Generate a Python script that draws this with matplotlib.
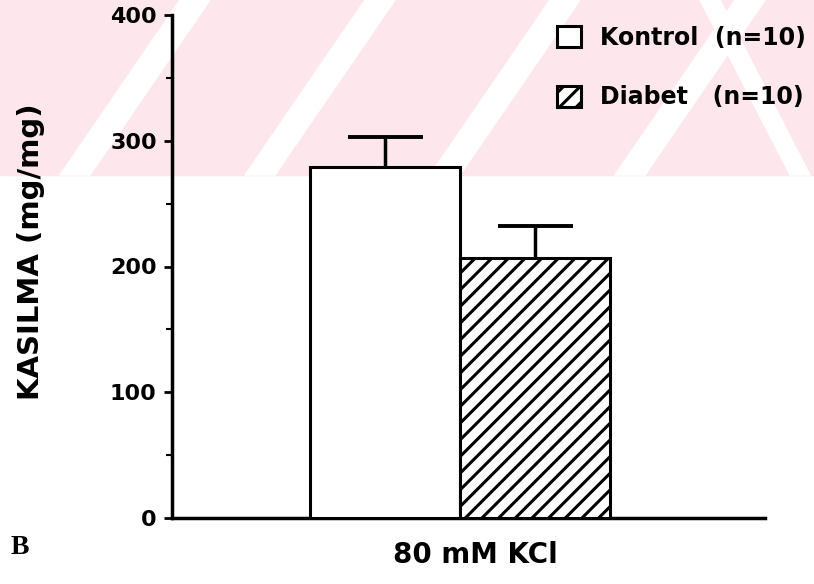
import matplotlib
matplotlib.use("Agg")
from matplotlib import pyplot as plt
from matplotlib.patches import Polygon, Rectangle
from matplotlib.ticker import MultipleLocator

groups = ["Kontrol  (n=10)", "Diabet   (n=10)"]
means = [279, 207]
errors = [24, 25]
hatches = ["", "//"]
condition = "80 mM KCl"
yticks = [0, 100, 200, 300, 400]

plt.rcParams["hatch.linewidth"] = 2.2
plt.rcParams["font.family"] = "DejaVu Sans"

fig = plt.figure(figsize=(8.14, 5.84), dpi=100)

# pink scan watermark band at the top
W, H = 814, 584
band_bottom = 175
fig.patches.append(Rectangle((0, 1 - band_bottom / H), 1, band_bottom / H,
                             transform=fig.transFigure, color="#fde6ec", zorder=-10))
for x0 in [60, 245, 430, 615]:
    pts = [(x0, band_bottom), (x0 + 30, band_bottom), (x0 + 150, 0), (x0 + 120, 0)]
    fig.patches.append(Polygon([(x / W, 1 - y / H) for x, y in pts], closed=True,
                               transform=fig.transFigure, color="white", zorder=-9))
pts = [(700, 0), (720, 0), (810, band_bottom), (790, band_bottom)]
fig.patches.append(Polygon([(x / W, 1 - y / H) for x, y in pts], closed=True,
                           transform=fig.transFigure, color="white", zorder=-9))

ax = fig.add_axes([172 / W, 1 - 518 / H, (765 - 172) / W, (518 - 15) / H])
ax.patch.set_alpha(0)

positions = [0, 1]
cap = 0.25
for i in range(len(groups)):
    ax.bar(positions[i], means[i], width=1.0, color="white", edgecolor="black",
           linewidth=2.2, hatch=hatches[i], label=groups[i], zorder=3)
    top = means[i] + errors[i]
    ax.vlines(positions[i], means[i], top, color="black", linewidth=2.5, zorder=4)
    ax.hlines(top, positions[i] - cap, positions[i] + cap, color="black",
              linewidth=2.8, zorder=4)

ax.set_xlim(-1.42, 2.53)
ax.set_ylim(0, 400)
ax.set_yticks(yticks)
ax.set_yticklabels([str(v) for v in yticks], fontsize=16, fontweight="heavy")
ax.yaxis.set_minor_locator(MultipleLocator(50))
ax.tick_params(axis="y", which="major", length=6, width=2, pad=5)
ax.tick_params(axis="y", which="minor", length=4, width=1.5)
ax.set_xticks([])
ax.set_xlabel(condition, fontsize=20, fontweight="heavy")
ax.xaxis.set_label_coords(0.511, -0.046)

for s in ["top", "right"]:
    ax.spines[s].set_visible(False)
for s in ["left", "bottom"]:
    ax.spines[s].set_linewidth(2.5)

ax.set_ylabel("KASILMA (mg/mg)", fontsize=21, fontweight="heavy")
ax.yaxis.set_label_coords(-0.215, 0.53)

ax.legend(loc="upper left", bbox_to_anchor=(557 / W, 1 - 26 / H), bbox_transform=fig.transFigure,
          frameon=False, prop={"size": 17, "weight": "heavy"}, handlelength=1.0,
          handleheight=1.0, labelspacing=1.5, handletextpad=0.8, borderpad=0,
          borderaxespad=0)

fig.text(11 / W, 1 - 547 / H, "B", fontsize=20, fontweight="bold",
         family=["Liberation Serif", "DejaVu Serif"], va="center")

fig.savefig("out.png", dpi=100)
